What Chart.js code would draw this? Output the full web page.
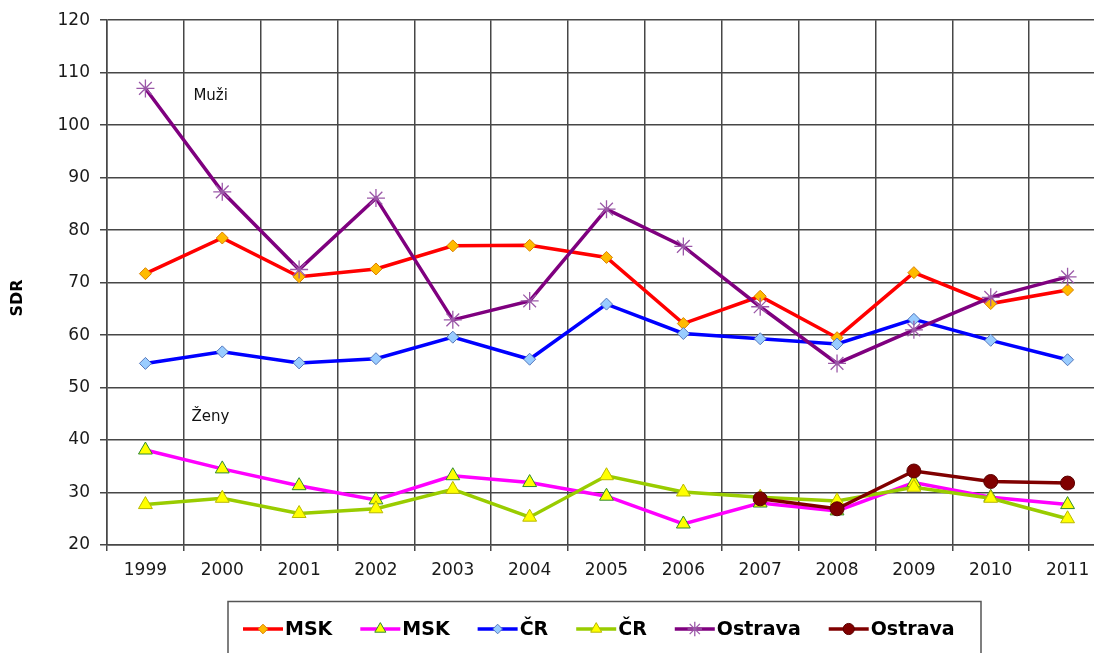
<!DOCTYPE html>
<html>
<head>
<meta charset="utf-8">
<script src="https://cdn.jsdelivr.net/npm/chart.js@4/dist/chart.umd.min.js"></script>
<style>
  html, body { margin: 0; padding: 0; background: #fff; overflow: hidden; }
  #wrap { width: 1094px; height: 653px; }
</style>
</head>
<body>
<div id="wrap"><canvas id="sdrChart" width="1094" height="653"></canvas></div>
<script>
// SDR by year, men (Muži) and women (Ženy)
const years = ["1999", "2000", "2001", "2002", "2003", "2004", "2005", "2006", "2007", "2008", "2009", "2010", "2011"];

const mskMuzi = [71.7, 78.5, 71.1, 72.6, 77.0, 77.1, 74.8, 62.2, 67.4, 59.5, 71.9, 66.0, 68.6];
const mskZeny = [38.1, 34.5, 31.3, 28.6, 33.2, 31.9, 29.3, 24.0, 28.0, 26.5, 31.9, 29.1, 27.7];
const crMuzi = [54.6, 56.8, 54.7, 55.5, 59.6, 55.4, 65.9, 60.3, 59.3, 58.3, 63.0, 59.0, 55.3];
const crZeny = [27.7, 28.9, 26.0, 26.9, 30.6, 25.3, 33.2, 30.1, 29.1, 28.4, 31.0, 28.9, 25.0];
const ostravaMuzi = [107.0, 87.3, 72.5, 86.1, 62.9, 66.5, 84.0, 76.9, 65.4, 54.6, 61.0, 67.2, 71.1];
const ostravaZeny = [null, null, null, null, null, null, null, null, 28.8, 26.9, 34.1, 32.1, 31.8];

const seriesNames = ["MSK", "MSK", "ČR", "ČR", "Ostrava", "Ostrava"];
const yTicks = [20, 30, 40, 50, 60, 70, 80, 90, 100, 110, 120];

const FONT = "'DejaVu Sans', sans-serif";
const GRID = "#474747";

function series(label, data, line, style, radius, fill, edge, order) {
    return {
        label: label,
        data: data,
        borderColor: line,
        backgroundColor: line,
        borderWidth: 3.5,
        pointStyle: style,
        pointRadius: radius,
        pointBackgroundColor: fill,
        pointBorderColor: edge,
        pointBorderWidth: style === "star" ? 1.3 : 1,
        tension: 0,
        spanGaps: false,
        order: order
    };
}

const datasets = [
    series(seriesNames[0], mskMuzi, "#ff0000", "rectRot", 6, "#ffbb00", "#d98000", 6),
    series(seriesNames[1], mskZeny, "#ff00ff", "triangle", 8, "#ffff00", "#2e8b2e", 5),
    series(seriesNames[2], crMuzi, "#0000ff", "rectRot", 6, "#99ccff", "#5577bb", 4),
    series(seriesNames[3], crZeny, "#99cc00", "triangle", 8, "#ffff00", "#b8b800", 3),
    series(seriesNames[4], ostravaMuzi, "#7f007f", "star", 9, "#9b59a8", "#9b59a8", 2),
    series(seriesNames[5], ostravaZeny, "#800000", "circle", 7, "#800000", "#5a0000", 1)
];

// the original plot runs a little past the right edge of the picture
const widenPlot = {
    id: "widenPlot",
    afterLayout(chart) {
        const x = chart.scales.x;
        const extra = chart.width + 12 - chart.chartArea.right;
        x.right += extra;
        x.width += extra;
        chart.chartArea.right += extra;
        chart.chartArea.width += extra;
        x.configure();
    }
};

// text labels inside the plot + axis title
const notes = {
    id: "notes",
    afterDatasetsDraw(chart) {
        const ctx = chart.ctx;
        const x = chart.scales.x;
        const y = chart.scales.y;
        ctx.save();
        ctx.fillStyle = "#111";
        ctx.font = "15px " + FONT;
        ctx.textBaseline = "middle";
        ctx.textAlign = "left";
        const left = x.getPixelForValue(0) + 48;
        ctx.fillText("Muži", left, y.getPixelForValue(105.5));
        ctx.fillText("Ženy", left - 2, y.getPixelForValue(44.3));

        ctx.translate(18, 298);
        ctx.rotate(-Math.PI / 2);
        ctx.textAlign = "center";
        ctx.fillStyle = "#000";
        ctx.font = "bold 16px " + FONT;
        ctx.fillText("SDR", 0, 0);
        ctx.restore();
    }
};

// boxed legend with line + marker samples
const boxLegend = {
    id: "boxLegend",
    afterDraw(chart) {
        const ctx = chart.ctx;
        const h = Chart.helpers;
        ctx.save();
        ctx.strokeStyle = "#555";
        ctx.lineWidth = 1.5;
        ctx.strokeRect(228, 601.5, 753, 70);

        ctx.font = "bold 19px " + FONT;
        ctx.textBaseline = "middle";
        let cx = 243;
        const cy = 629;
        chart.data.datasets.forEach(function (ds) {
            ctx.strokeStyle = ds.borderColor;
            ctx.lineWidth = 3.5;
            ctx.beginPath();
            ctx.moveTo(cx, cy);
            ctx.lineTo(cx + 40, cy);
            ctx.stroke();
            ctx.fillStyle = ds.pointBackgroundColor;
            ctx.strokeStyle = ds.pointBorderColor;
            ctx.lineWidth = ds.pointBorderWidth;
            h.drawPoint(ctx, {
                pointStyle: ds.pointStyle,
                radius: ds.pointRadius * 0.8,
                rotation: 0,
                borderWidth: ds.pointBorderWidth
            }, cx + 20, cy);
            ctx.fillStyle = "#000";
            ctx.fillText(ds.label, cx + 42, cy + 1);
            cx += 42 + ctx.measureText(ds.label).width + 28;
        });
        ctx.restore();
    }
};

const ctx = document.getElementById("sdrChart");

new Chart(ctx, {
    type: "line",
    data: {
        labels: years,
        datasets: datasets
    },
    options: {
        responsive: false,
        animation: false,
        layout: {
            padding: { left: 0, top: 20, right: 0, bottom: 0 }
        },
        plugins: {
            legend: { display: false },
            tooltip: { enabled: false }
        },
        scales: {
            x: {
                offset: true,
                grid: {
                    offset: true,
                    // no closing line on the right: the plot is cut by the picture edge
                    color: (c) => c.index >= years.length ? "rgba(0,0,0,0)" : GRID,
                    lineWidth: 1.5,
                    tickLength: 6
                },
                border: { color: GRID, width: 1.5 },
                ticks: {
                    color: "#1a1a1a",
                    font: { family: FONT, size: 17 },
                    padding: 9,
                    maxRotation: 0
                },
                afterFit(scale) {
                    scale.height = 108;
                }
            },
            y: {
                min: 20,
                max: 120,
                afterBuildTicks(scale) {
                    scale.ticks = yTicks.map(v => ({ value: v }));
                },
                grid: {
                    color: GRID,
                    lineWidth: 1.5,
                    tickLength: 7
                },
                border: { color: GRID, width: 1.5 },
                ticks: {
                    color: "#1a1a1a",
                    font: { family: FONT, size: 17 },
                    padding: 10
                },
                afterFit(scale) {
                    scale.width = 107;
                }
            }
        }
    },
    plugins: [widenPlot, notes, boxLegend]
});
</script>
</body>
</html>
